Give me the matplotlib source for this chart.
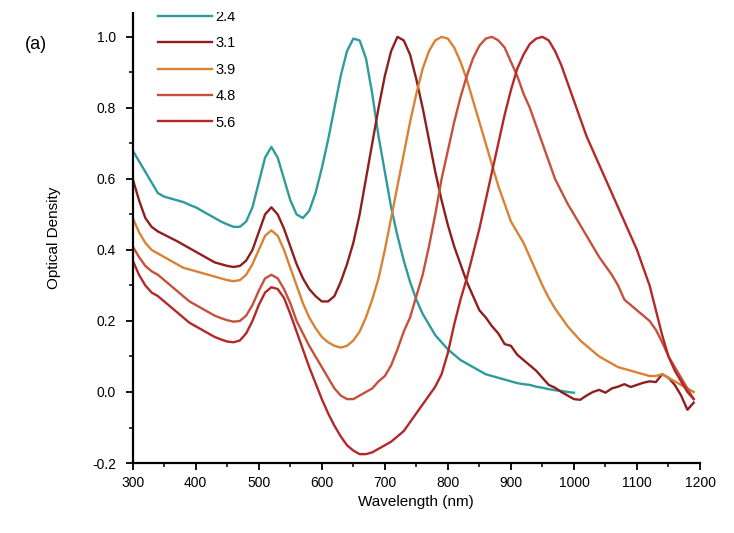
import numpy as np
import matplotlib
matplotlib.use("Agg")
import matplotlib.pyplot as plt
from matplotlib.ticker import MultipleLocator
from matplotlib.patches import Rectangle

plt.rcParams['font.family'] = ['Liberation Sans', 'DejaVu Sans']

# wavelength grid (nm), shared by all spectra
wl = list(range(300, 1200, 10))
wl_short = list(range(300, 1010, 10))

od_24 = [0.68, 0.65, 0.62, 0.59, 0.56, 0.55, 0.545, 0.54, 0.535, 0.527,
         0.52, 0.51, 0.50, 0.49, 0.48, 0.472, 0.465, 0.465, 0.48, 0.52,
         0.59, 0.66, 0.69, 0.66, 0.60, 0.54, 0.50, 0.49, 0.51, 0.56,
         0.63, 0.71, 0.80, 0.89, 0.96, 0.995, 0.99, 0.94, 0.84, 0.72,
         0.62, 0.52, 0.44, 0.37, 0.31, 0.26, 0.22, 0.19, 0.16, 0.14,
         0.12, 0.105, 0.09, 0.08, 0.07, 0.06, 0.05, 0.045, 0.04, 0.035,
         0.03, 0.025, 0.022, 0.02, 0.015, 0.012, 0.008, 0.005, 0.003, 0.0,
         -0.002]

od_31 = [0.60, 0.54, 0.49, 0.465, 0.452, 0.443, 0.434, 0.425, 0.415, 0.405,
         0.395, 0.385, 0.375, 0.365, 0.36, 0.355, 0.352, 0.355, 0.37, 0.40,
         0.45, 0.50, 0.52, 0.50, 0.46, 0.41, 0.36, 0.32, 0.29, 0.27,
         0.255, 0.255, 0.27, 0.31, 0.36, 0.42, 0.50, 0.60, 0.70, 0.80,
         0.89, 0.96, 1.0, 0.99, 0.95, 0.88, 0.80, 0.71, 0.62, 0.54,
         0.47, 0.41, 0.36, 0.31, 0.27, 0.23, 0.21, 0.185, 0.165, 0.135,
         0.13, 0.105, 0.09, 0.075, 0.06, 0.04, 0.02, 0.012, 0.0, -0.01,
         -0.02, -0.022, -0.01, 0.0, 0.006, -0.002, 0.01, 0.015, 0.022, 0.014,
         0.02, 0.026, 0.03, 0.028, 0.05, 0.04, 0.02, -0.01, -0.05, -0.03]

od_39 = [0.49, 0.45, 0.42, 0.40, 0.39, 0.38, 0.37, 0.36, 0.35, 0.345,
         0.34, 0.335, 0.33, 0.325, 0.32, 0.315, 0.312, 0.315, 0.33, 0.36,
         0.40, 0.44, 0.455, 0.44, 0.40, 0.35, 0.30, 0.25, 0.21, 0.18,
         0.155, 0.14, 0.13, 0.125, 0.13, 0.145, 0.17, 0.21, 0.26, 0.32,
         0.40, 0.49, 0.58, 0.67, 0.76, 0.84, 0.91, 0.96, 0.99, 1.0,
         0.995, 0.97, 0.93, 0.88, 0.82, 0.76, 0.70, 0.64, 0.58, 0.53,
         0.48, 0.45, 0.42, 0.38, 0.34, 0.30, 0.265, 0.235, 0.21, 0.185,
         0.165, 0.145, 0.13, 0.115, 0.10, 0.09, 0.08, 0.07, 0.065, 0.06,
         0.055, 0.05, 0.045, 0.045, 0.05, 0.04, 0.03, 0.02, 0.01, 0.0]

od_48 = [0.41, 0.38, 0.355, 0.34, 0.33, 0.315, 0.30, 0.285, 0.27, 0.255,
         0.245, 0.235, 0.225, 0.215, 0.208, 0.202, 0.198, 0.20, 0.215, 0.245,
         0.285, 0.32, 0.33, 0.32, 0.29, 0.25, 0.20, 0.165, 0.13, 0.10,
         0.07, 0.04, 0.01, -0.01, -0.02, -0.02, -0.01, 0.0, 0.01, 0.03,
         0.045, 0.075, 0.12, 0.17, 0.21, 0.27, 0.33, 0.41, 0.50, 0.60,
         0.68, 0.76, 0.83, 0.89, 0.94, 0.975, 0.995, 1.0, 0.99, 0.97,
         0.93, 0.89, 0.84, 0.80, 0.75, 0.70, 0.65, 0.60, 0.565, 0.53,
         0.50, 0.47, 0.44, 0.41, 0.38, 0.355, 0.33, 0.30, 0.26, 0.245,
         0.23, 0.215, 0.20, 0.175, 0.14, 0.10, 0.07, 0.04, 0.01, -0.02]

od_56 = [0.37, 0.33, 0.30, 0.28, 0.27, 0.255, 0.24, 0.225, 0.21, 0.195,
         0.185, 0.175, 0.165, 0.155, 0.148, 0.142, 0.14, 0.145, 0.165, 0.20,
         0.245, 0.28, 0.295, 0.29, 0.265, 0.22, 0.17, 0.12, 0.07, 0.025,
         -0.02, -0.06, -0.095, -0.125, -0.15, -0.165, -0.175, -0.175, -0.17, -0.16,
         -0.15, -0.14, -0.125, -0.11, -0.085, -0.06, -0.035, -0.01, 0.015, 0.05,
         0.11, 0.19, 0.26, 0.32, 0.39, 0.46, 0.54, 0.62, 0.70, 0.78,
         0.85, 0.91, 0.95, 0.98, 0.995, 1.0, 0.99, 0.96, 0.92, 0.87,
         0.82, 0.77, 0.72, 0.68, 0.64, 0.60, 0.56, 0.52, 0.48, 0.44,
         0.40, 0.35, 0.30, 0.23, 0.16, 0.10, 0.06, 0.03, 0.0, -0.02]

labels = ['2.4', '3.1', '3.9', '4.8', '5.6']
colors = ['#2e9c9c', '#8e1f1f', '#d98236', '#c5503c', '#b5282a']

fig = plt.figure(figsize=(7.34, 5.33), dpi=100)
ax = fig.add_axes([0.1808, 0.1313, 0.7729, 0.8462])

series = [(wl_short, od_24), (wl, od_31), (wl, od_39), (wl, od_48), (wl, od_56)]
for (x, y), lab, c in zip(series, labels, colors):
    ax.plot(x, y, color=c, lw=1.7, label=lab)

ax.set_xlim(300, 1200)
ax.set_ylim(-0.2, 1.07)
ax.xaxis.set_major_locator(MultipleLocator(100))
ax.xaxis.set_minor_locator(MultipleLocator(50))
ax.yaxis.set_major_locator(MultipleLocator(0.2))
ax.yaxis.set_minor_locator(MultipleLocator(0.1))
ax.yaxis.set_major_formatter(plt.FuncFormatter(lambda v, p: f"{v:.1f}"))

for s in ['top', 'right']:
    ax.spines[s].set_visible(False)
for s in ['left', 'bottom']:
    ax.spines[s].set_linewidth(1.6)
ax.tick_params(which='major', direction='out', length=5, width=1.3, labelsize=10)
ax.tick_params(which='minor', direction='out', length=3, width=1.1)
ax.tick_params(axis='y', which='major', pad=7)
ax.tick_params(axis='x', which='major', pad=4)

ax.set_xlabel('Wavelength (nm)', fontsize=11, labelpad=4)
ax.set_ylabel('Optical Density', fontsize=11, labelpad=22)

ax.legend(loc='upper left', bbox_to_anchor=(158 / 734, 1 - 10 / 533),
          bbox_transform=fig.transFigure, frameon=False, fontsize=10.5,
          handlelength=3.7, handletextpad=0.25, labelspacing=0.85,
          borderpad=0, borderaxespad=0)

fig.text(25 / 734, 1 - 45 / 533, '(a)', fontsize=13, va='center', ha='left')

# blank strip along the top edge
fig.add_artist(Rectangle((0, 1 - 12 / 533), 1, 12 / 533, transform=fig.transFigure,
                         facecolor='white', edgecolor='none', zorder=10))

fig.savefig('out.png', dpi=100)
